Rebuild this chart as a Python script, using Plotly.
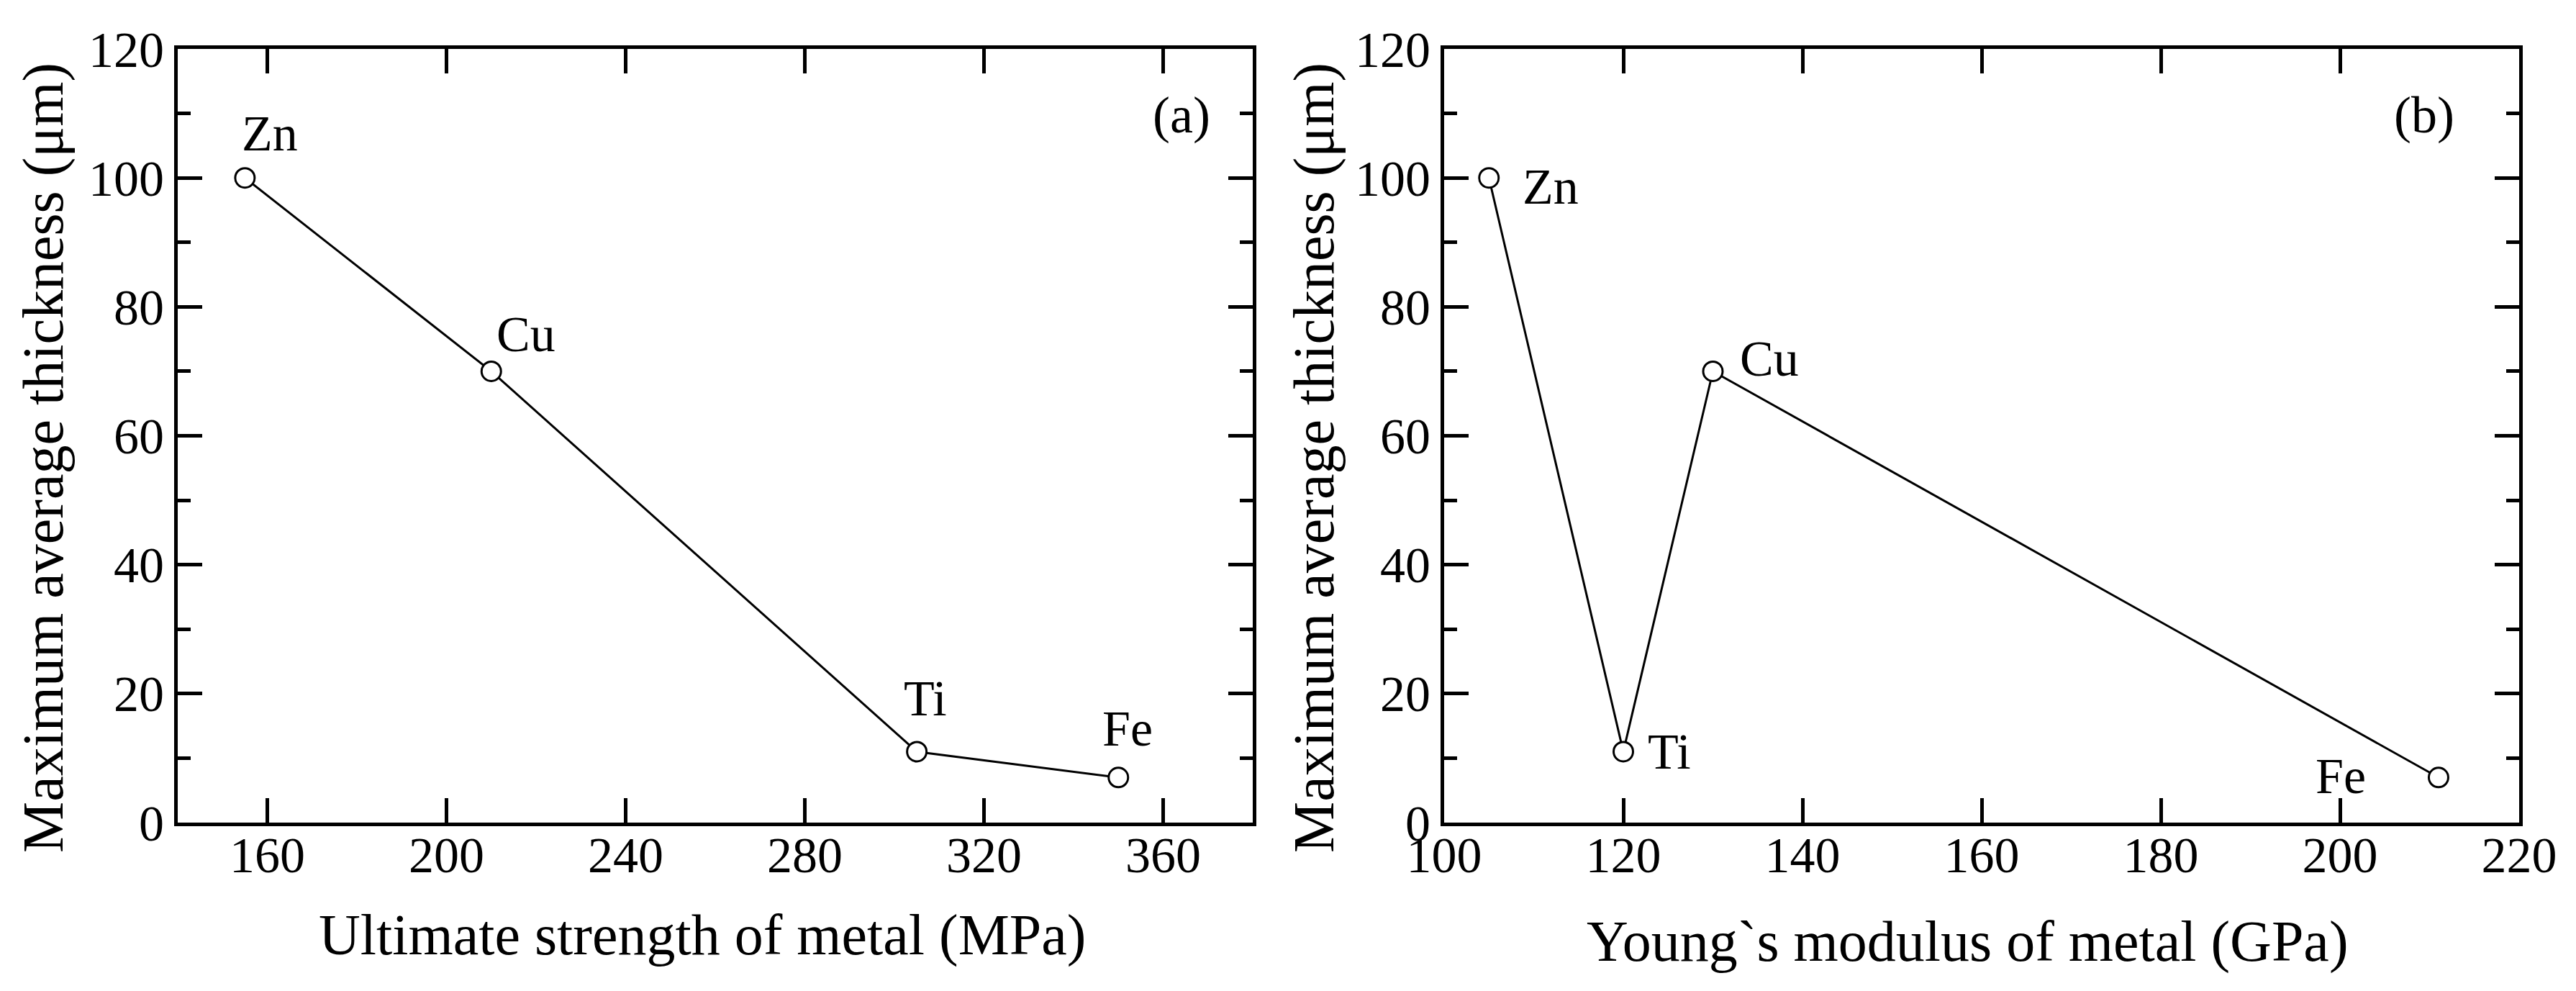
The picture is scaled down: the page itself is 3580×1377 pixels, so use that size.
import plotly.graph_objects as go

# ---- data ----
metals_a = ["Zn", "Cu", "Ti", "Fe"]
strength_mpa = [155, 210, 305, 350]
thickness_a = [100, 70, 11, 7]

metals_b = ["Zn", "Ti", "Cu", "Fe"]
modulus_gpa = [105, 120, 130, 211]
thickness_b = [100, 11, 70, 7]

xticks_a = [160, 200, 240, 280, 320, 360]
xticks_b = [100, 120, 140, 160, 180, 200, 220]
yticks = [0, 20, 40, 60, 80, 100, 120]

# ---- layout geometry (pixels) ----
W, H = 3580, 1377
FONT = "Liberation Serif"
PA = (247, 1741)   # panel a x-extent
PB = (2007, 3501)  # panel b x-extent
PY = (68, 1143)    # panels y-extent (top, bottom)


def fx(px):
    return px / W


def fy(py):
    return 1 - py / H


fig = go.Figure()
line_style = dict(color="black", width=3)
marker_style = dict(symbol="circle", size=27, color="white",
                    line=dict(color="black", width=3))

fig.add_trace(go.Scatter(x=strength_mpa, y=thickness_a, mode="lines+markers",
                         line=line_style, marker=marker_style,
                         xaxis="x", yaxis="y", showlegend=False))
fig.add_trace(go.Scatter(x=modulus_gpa, y=thickness_b, mode="lines+markers",
                         line=line_style, marker=marker_style,
                         xaxis="x2", yaxis="y2", showlegend=False))

axis_common = dict(
    showline=True, linecolor="black", linewidth=5, mirror="allticks",
    ticks="inside", ticklen=34, tickwidth=5, tickcolor="black",
    showgrid=False, zeroline=False, automargin=False,
    tickfont=dict(family=FONT, size=70, color="black"),
)
minor_y = dict(dtick=10, ticklen=18, tickwidth=5, tickcolor="black",
               ticks="inside", showgrid=False)

fig.update_layout(
    width=W, height=H,
    margin=dict(l=0, r=0, t=0, b=0),
    paper_bgcolor="white", plot_bgcolor="white",
    xaxis=dict(domain=[fx(PA[0]), fx(PA[1])], range=[140, 380],
               tickvals=xticks_a, anchor="y", ticklabelstandoff=-20,
               **axis_common),
    yaxis=dict(domain=[fy(PY[1]), fy(PY[0])], range=[0, 120],
               tickvals=yticks, anchor="x", minor=minor_y, **axis_common),
    xaxis2=dict(domain=[fx(PB[0]), fx(PB[1])], range=[100, 220],
                tickvals=xticks_b, anchor="y2", ticklabelstandoff=-20,
                **axis_common),
    yaxis2=dict(domain=[fy(PY[1]), fy(PY[0])], range=[0, 120],
                tickvals=yticks, anchor="x2", minor=minor_y, **axis_common),
)

annotations = []
# point labels (pixel offsets from points)
offs_a = [(35, -62), (48, -51), (12, -74), (13, -68)]
offs_b = [(86, 12), (64, 0), (78, -17), (-136, -2)]
lab_font = dict(family=FONT, size=70, color="black")
for name, xv, yv, (dx, dy) in zip(metals_a, strength_mpa, thickness_a, offs_a):
    annotations.append(dict(x=xv, y=yv, xref="x", yref="y", text=name,
                            showarrow=False, xshift=dx, yshift=-dy,
                            xanchor="center", yanchor="middle", font=lab_font))
for name, xv, yv, (dx, dy) in zip(metals_b, modulus_gpa, thickness_b, offs_b):
    annotations.append(dict(x=xv, y=yv, xref="x2", yref="y2", text=name,
                            showarrow=False, xshift=dx, yshift=-dy,
                            xanchor="center", yanchor="middle", font=lab_font))

title_font = dict(family=FONT, size=80, color="black")


def paper_text(px, py, text, font, angle=0):
    return dict(x=fx(px), y=fy(py), xref="paper", yref="paper", text=text,
                textangle=angle, showarrow=False, xanchor="center",
                yanchor="middle", font=font)


annotations += [
    paper_text(60, 636, "Maximum average thickness (μm)", title_font, -90),
    paper_text(1826, 636, "Maximum average thickness (μm)", title_font, -90),
    paper_text(976, 1299, "Ultimate strength of metal (MPa)", title_font),
    paper_text(2734, 1308, "Young`s modulus of metal (GPa)", title_font),
    paper_text(1642, 160, "(a)", dict(family=FONT, size=72, color="black")),
    paper_text(3369, 160, "(b)", dict(family=FONT, size=72, color="black")),
]
fig.update_layout(annotations=annotations)

fig.write_html("out.html", config={"displayModeBar": False},
               post_script="document.body.style.margin='0';")
